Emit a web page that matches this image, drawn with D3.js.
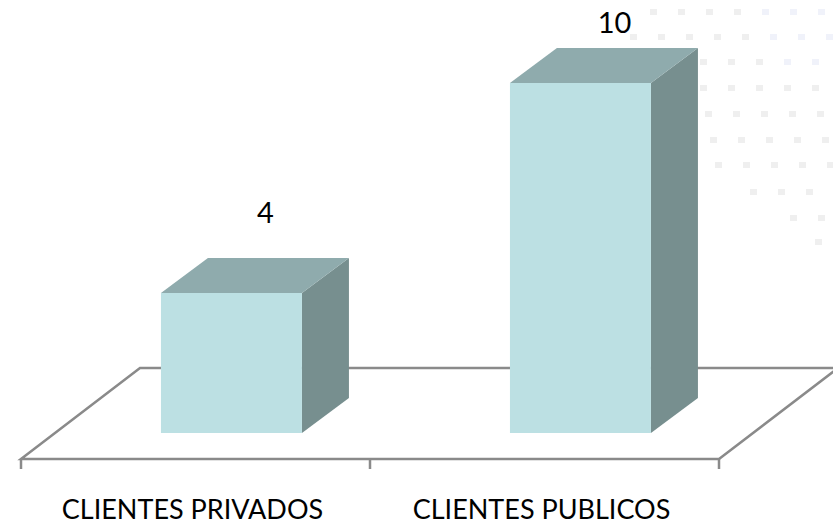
<!DOCTYPE html>
<html>
<head>
<meta charset="utf-8">
<script src="https://cdn.jsdelivr.net/npm/d3@7"></script>
<style>
  html, body { margin: 0; padding: 0; background: #fff; }
  svg { display: block; }
</style>
</head>
<body>
<svg id="chart" width="833" height="524"></svg>
<script>
const categories = ["CLIENTES PRIVADOS", "CLIENTES PUBLICOS"];
const values = [4, 10];
const valueLabels = ["4", "10"];

const W = 833, H = 524;
const svg = d3.select("#chart");

// decorative faint dot pattern (background, top-right)
const deco = svg.append("g").attr("opacity", 0.13);
const rowsY = [12, 37, 62, 88, 114, 140, 165, 192, 218, 242];
const rowStart = [650, 630, 700, 700, 705, 710, 715, 750, 790, 815];
rowsY.forEach((ry, i) => {
  for (let x = rowStart[i]; x < W; x += 28) {
    deco.append("rect").attr("x", x).attr("y", ry - 3)
      .attr("width", 7).attr("height", 6)
      .attr("fill", (i < 3 && x > 760) ? "#8f9fe0" : "#8a8a8a");
  }
});

const floorFront = 459, floorDX = 119, floorDY = -91;
const x = d3.scaleBand().domain(categories).range([21, 719]).padding(0);
const y = d3.scaleLinear().domain([0, 10]).range([433, 83]);
const depthX = 47, depthY = -35;

// floor
const gFloor = svg.append("g").attr("fill", "none").attr("stroke", "#8a8a8a").attr("stroke-width", 2.5);
const x0 = x.range()[0], x1 = x.range()[1];
gFloor.append("path").attr("d",
  `M${x0},${floorFront} L${x0 + floorDX},${floorFront + floorDY} L${x1 + floorDX},${floorFront + floorDY} L${x1},${floorFront} Z`);
// ticks
const tickXs = categories.map(c => x(c)).concat([x1]);
gFloor.selectAll("line.tick").data(tickXs).enter().append("line")
  .attr("x1", d => d).attr("x2", d => d)
  .attr("y1", floorFront).attr("y2", floorFront + 10);

// bars
const bars = svg.append("g").selectAll("g").data(categories).enter().append("g");
const bx = c => x(c) + x.bandwidth() * 0.401;
const bw = x.bandwidth() * 0.404;
const y0 = y(0);

bars.append("path") // side
  .attr("fill", "#778f8f")
  .attr("d", (c, i) => {
    const r = bx(c) + bw, t = y(values[i]);
    return `M${r},${y0} L${r + depthX},${y0 + depthY} L${r + depthX},${t + depthY} L${r},${t} Z`;
  });
bars.append("path") // top
  .attr("fill", "#8fabad")
  .attr("d", (c, i) => {
    const l = bx(c), r = l + bw, t = y(values[i]);
    return `M${l},${t} L${l + depthX},${t + depthY} L${r + depthX},${t + depthY} L${r},${t} Z`;
  });
bars.append("rect") // front
  .attr("fill", "#bce0e3")
  .attr("x", c => bx(c))
  .attr("width", bw)
  .attr("y", (c, i) => y(values[i]))
  .attr("height", (c, i) => y0 - y(values[i]));

// value labels
svg.append("g").selectAll("text").data(categories).enter().append("text")
  .attr("x", c => bx(c) + bw / 2 + 34)
  .attr("y", (c, i) => Math.max(y(values[i]) - 70, 33))
  .attr("text-anchor", "middle")
  .attr("font-family", "Lato, 'Open Sans', sans-serif")
  .attr("font-size", 29)
  .attr("fill", "#000")
  .text((c, i) => valueLabels[i]);

// category labels
svg.append("g").selectAll("text").data(categories).enter().append("text")
  .attr("x", c => x(c) + x.bandwidth() / 2 - 3)
  .attr("y", 519)
  .attr("text-anchor", "middle")
  .attr("font-family", "Lato, 'Open Sans', sans-serif")
  .attr("font-size", 27)
  .attr("fill", "#000")
  .text(c => c);
</script>
</body>
</html>
